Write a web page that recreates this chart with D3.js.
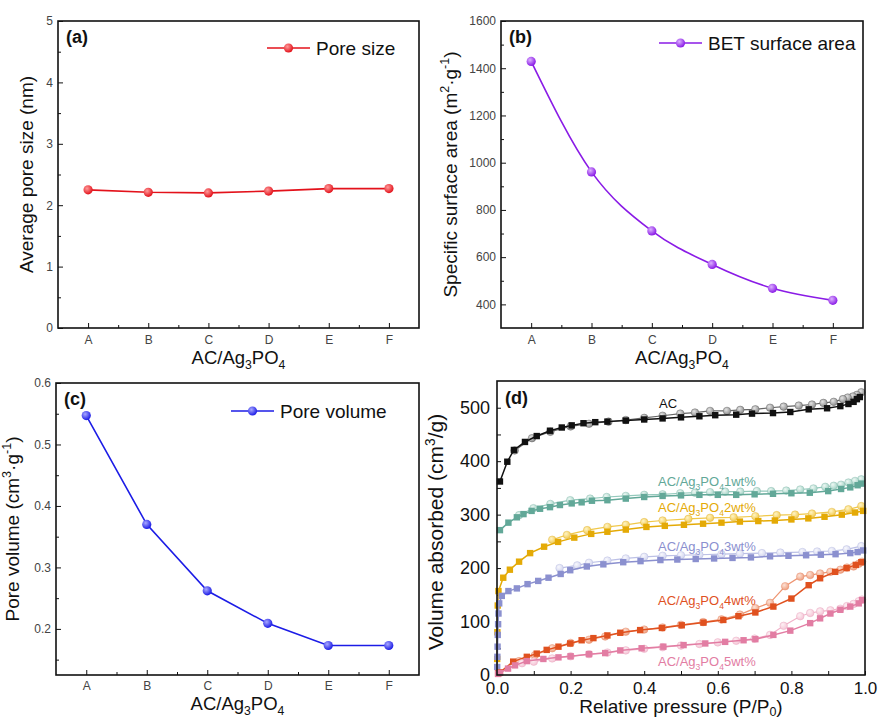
<!DOCTYPE html>
<html>
<head>
<meta charset="utf-8">
<script src="https://cdn.jsdelivr.net/npm/d3@7"></script>
<style>
  body { margin: 0; background: #fff; }
  text { font-family: Arial, "Liberation Sans", sans-serif; }
</style>
</head>
<body>
<svg id="chart" width="878" height="719"></svg>
<script>
// ---- data ----
const categories = ['A', 'B', 'C', 'D', 'E', 'F'];
const poreSize = [2.25, 2.21, 2.20, 2.23, 2.27, 2.27];
const surfaceArea = [1429, 961, 711, 569, 468, 417];
const poreVolume = [0.547, 0.370, 0.262, 0.209, 0.173, 0.173];

// isotherms, [P/P0, volume] pairs
const acAds = [[0.008, 362], [0.028, 399], [0.046, 421], [0.076, 436], [0.108, 447], [0.144, 457], [0.176, 463], [0.203, 467], [0.235, 471], [0.267, 473], [0.30, 474], [0.35, 476], [0.40, 478], [0.45, 480], [0.50, 482], [0.55, 484], [0.593, 486], [0.65, 487], [0.693, 489], [0.75, 490], [0.797, 492], [0.847, 497], [0.897, 499], [0.933, 503], [0.955, 507], [0.969, 511], [0.978, 516], [0.986, 520]];
const acDes = [[0.99, 529], [0.978, 524], [0.967, 521], [0.953, 519], [0.94, 516], [0.915, 511], [0.887, 509], [0.856, 506], [0.82, 504], [0.779, 502], [0.742, 500], [0.702, 497], [0.661, 496], [0.625, 494], [0.579, 494], [0.538, 491], [0.498, 489], [0.45, 485], [0.40, 481], [0.35, 477], [0.303, 474], [0.25, 470], [0.20, 465], [0.145, 455], [0.095, 443], [0.048, 420]];
const wt1Ads = [[0.008, 271], [0.031, 285], [0.054, 295], [0.072, 301], [0.094, 307], [0.117, 311], [0.144, 314], [0.171, 318], [0.203, 321], [0.23, 323], [0.258, 326], [0.30, 327], [0.35, 330], [0.40, 333], [0.45, 335], [0.50, 336], [0.55, 337], [0.60, 337], [0.65, 337], [0.70, 338], [0.75, 339], [0.80, 340], [0.85, 341], [0.90, 344], [0.935, 348], [0.96, 351], [0.98, 355], [0.99, 358]];
const wt1Des = [[0.99, 366], [0.973, 363], [0.955, 360], [0.935, 356], [0.915, 354], [0.892, 352], [0.86, 349], [0.824, 347], [0.786, 345], [0.745, 344], [0.706, 344], [0.661, 343], [0.62, 343], [0.579, 342], [0.538, 341], [0.498, 340], [0.45, 338], [0.40, 337], [0.35, 335], [0.298, 333], [0.253, 330], [0.199, 327], [0.145, 320], [0.099, 312], [0.06, 299]];
const wt2Ads = [[0.0005, 30], [0.001, 80], [0.002, 130], [0.004, 157], [0.017, 182], [0.035, 197], [0.06, 212], [0.09, 228], [0.128, 240], [0.166, 249], [0.21, 257], [0.256, 264], [0.30, 268], [0.35, 272], [0.406, 277], [0.456, 279], [0.508, 281], [0.56, 283], [0.61, 285], [0.66, 287], [0.71, 288], [0.755, 289], [0.80, 291], [0.846, 293], [0.89, 296], [0.937, 300], [0.973, 304], [0.995, 307]];
const wt2Des = [[0.99, 316], [0.955, 310], [0.91, 305], [0.856, 302], [0.81, 300], [0.76, 299], [0.702, 297], [0.643, 295], [0.579, 294], [0.52, 292], [0.45, 289], [0.40, 286], [0.35, 281], [0.30, 277], [0.245, 271], [0.19, 262], [0.15, 253]];
const wt3Ads = [[0.0005, 15], [0.001, 34], [0.0015, 53], [0.002, 75], [0.003, 95], [0.004, 115], [0.006, 134], [0.013, 148], [0.031, 157], [0.054, 162], [0.083, 170], [0.112, 176], [0.14, 182], [0.173, 189], [0.199, 196], [0.244, 203], [0.289, 207], [0.343, 211], [0.39, 213], [0.444, 215], [0.49, 216], [0.54, 217], [0.59, 218], [0.64, 219], [0.69, 220], [0.742, 222], [0.792, 223], [0.84, 224], [0.88, 225], [0.92, 226], [0.96, 228], [0.98, 230], [0.995, 233]];
const wt3Des = [[0.99, 241], [0.95, 235], [0.91, 232], [0.87, 231], [0.83, 230], [0.77, 229], [0.72, 228], [0.66, 227], [0.61, 226], [0.55, 225], [0.50, 224], [0.45, 223], [0.40, 221], [0.35, 218], [0.30, 214], [0.25, 210], [0.218, 205], [0.17, 200]];
const wt4Ads = [[0.003, 3], [0.008, 5], [0.044, 25], [0.081, 34], [0.108, 40], [0.135, 47], [0.167, 53], [0.199, 59], [0.23, 65], [0.262, 69], [0.30, 74], [0.335, 79], [0.389, 84], [0.448, 88], [0.502, 93], [0.561, 98], [0.615, 103], [0.656, 110], [0.702, 117], [0.751, 128], [0.80, 143], [0.847, 168], [0.878, 181], [0.919, 193], [0.95, 200], [0.975, 206], [0.99, 211]];
const wt4Des = [[0.992, 212], [0.983, 208], [0.969, 203], [0.951, 201], [0.933, 197], [0.906, 193], [0.878, 190], [0.851, 187], [0.824, 184], [0.783, 166], [0.742, 135], [0.702, 125], [0.66, 113], [0.61, 104], [0.56, 99], [0.50, 94], [0.45, 89], [0.40, 85], [0.35, 81], [0.294, 72], [0.25, 66], [0.20, 60], [0.15, 50], [0.103, 37], [0.06, 26]];
const wt5Ads = [[0.003, 2], [0.008, 4], [0.03, 12], [0.049, 18], [0.081, 26], [0.126, 30], [0.167, 33], [0.20, 35], [0.25, 39], [0.294, 41], [0.335, 46], [0.393, 50], [0.452, 53], [0.507, 56], [0.566, 59], [0.62, 62], [0.67, 65], [0.702, 67], [0.751, 75], [0.797, 83], [0.851, 97], [0.878, 106], [0.906, 115], [0.933, 122], [0.96, 128], [0.983, 134], [0.992, 140]];
const wt5Des = [[0.992, 141], [0.983, 138], [0.969, 133], [0.951, 129], [0.933, 124], [0.906, 121], [0.878, 119], [0.851, 116], [0.824, 110], [0.779, 92], [0.742, 75], [0.70, 68], [0.65, 64], [0.60, 61], [0.55, 58], [0.50, 55], [0.45, 52], [0.40, 49], [0.35, 46], [0.30, 42], [0.25, 39], [0.20, 35], [0.15, 31], [0.10, 25], [0.068, 22]];

const svg = d3.select('#chart');
svg.append('rect').attr('width', 878).attr('height', 719).attr('fill', '#fff');
const defs = svg.append('defs');

// sphere-like marker fill
function sphere(id, light, base) {
  const g = defs.append('radialGradient').attr('id', id)
    .attr('cx', '38%').attr('cy', '35%').attr('r', '65%');
  g.append('stop').attr('offset', '0%').attr('stop-color', light);
  g.append('stop').attr('offset', '100%').attr('stop-color', base);
  return `url(#${id})`;
}

// text with sub/superscripts, parts = [[str, 'n'|'sub'|'sup'], ...]
function rich(sel, parts, fs, subShift = 0.28) {
  let cur = 0;
  parts.forEach(([s, k]) => {
    const target = k === 'sup' ? -0.4 * fs : (k === 'sub' ? subShift * fs : 0);
    sel.append('tspan')
      .attr('dy', target - cur)
      .style('font-size', k === 'n' ? `${fs}px` : `${fs * 0.66}px`)
      .text(s);
    cur = target;
  });
}

function frame(g, b) {
  g.append('rect')
    .attr('x', b.left).attr('y', b.top)
    .attr('width', b.right - b.left).attr('height', b.bottom - b.top)
    .attr('fill', 'none').attr('stroke', '#111').attr('stroke-width', 1.6);
}

function styleAxis(a, fs, fill) {
  a.select('.domain').remove();
  a.selectAll('line').attr('stroke', '#111');
  a.selectAll('text').style('font-size', `${fs}px`).attr('fill', fill);
}

// panels a, b, c share the same layout
function categoryPanel(cfg) {
  const b = cfg.box;
  const g = svg.append('g');
  const x = d3.scalePoint().domain(categories).range([b.left, b.right]).padding(0.5);
  const y = d3.scaleLinear().domain(cfg.yDomain).range([b.bottom, b.top]);

  const xa = g.append('g').attr('transform', `translate(0,${b.bottom})`)
    .call(d3.axisBottom(x).tickSize(-5).tickPadding(cfg.xPad));
  styleAxis(xa, 12, '#444');
  const step = x.step();
  const xm = d3.scaleLinear().domain([b.left, b.right]).range([b.left, b.right]);
  const xMinor = g.append('g').attr('transform', `translate(0,${b.bottom})`)
    .call(d3.axisBottom(xm).tickValues(categories.slice(0, 5).map(c => x(c) + step / 2))
      .tickSize(-3).tickFormat(''));
  styleAxis(xMinor, 12, '#444');

  const ya = g.append('g').attr('transform', `translate(${b.left},0)`)
    .call(d3.axisLeft(y).tickValues(cfg.yTicks).tickSize(-5).tickPadding(5).tickFormat(cfg.fmt));
  styleAxis(ya, 12, '#444');
  const yMinor = g.append('g').attr('transform', `translate(${b.left},0)`)
    .call(d3.axisLeft(y).tickValues(cfg.yMinor).tickSize(-3).tickFormat(''));
  styleAxis(yMinor, 12, '#444');

  frame(g, b);

  const fill = sphere(cfg.id, cfg.light, cfg.color);
  const line = d3.line().x((d, i) => x(categories[i])).y(d => y(d)).curve(cfg.curve);
  g.append('path').datum(cfg.values).attr('d', line)
    .attr('fill', 'none').attr('stroke', cfg.color).attr('stroke-width', 1.6);
  g.selectAll('circle.pt').data(cfg.values).join('circle')
    .attr('class', 'pt')
    .attr('cx', (d, i) => x(categories[i])).attr('cy', d => y(d))
    .attr('r', 4.6).attr('fill', fill);

  // legend
  const L = cfg.legend;
  g.append('line').attr('x1', L.x).attr('x2', L.x + 43).attr('y1', L.y).attr('y2', L.y)
    .attr('stroke', cfg.color).attr('stroke-width', 1.6);
  g.append('circle').attr('cx', L.x + 21.5).attr('cy', L.y).attr('r', 4.6).attr('fill', fill);
  g.append('text').attr('x', L.x + 49).attr('y', L.y + 7)
    .style('font-size', '19px').attr('fill', '#111').text(cfg.legendText);

  g.append('text').attr('x', b.left + 8).attr('y', b.top + 22)
    .style('font-size', '18px').style('font-weight', 'bold').attr('fill', '#111').text(cfg.tag);

  const yt = g.append('text').attr('text-anchor', 'middle')
    .attr('transform', `translate(${cfg.yTitleX},${(b.top + b.bottom) / 2}) rotate(-90)`)
    .attr('dy', '0.35em').attr('fill', '#111');
  rich(yt, cfg.yTitle, 19);

  const xt = g.append('text').attr('text-anchor', 'middle')
    .attr('x', (b.left + b.right) / 2).attr('y', cfg.xTitleY).attr('fill', '#111');
  rich(xt, [['AC/Ag', 'n'], ['3', 'sub'], ['PO', 'n'], ['4', 'sub']], 18.5);
}

categoryPanel({
  box: { left: 58, top: 21, right: 419, bottom: 328 },
  values: poreSize, yDomain: [0, 5], yTicks: [0, 1, 2, 3, 4, 5], yMinor: [0.5, 1.5, 2.5, 3.5, 4.5],
  fmt: d3.format('d'), color: '#e3121b', light: '#ff9a9a', id: 'gA', curve: d3.curveLinear,
  legend: { x: 267, y: 48 }, legendText: 'Pore size', tag: '(a)',
  yTitleX: 33, yTitle: [['Average pore size (nm)', 'n']], xTitleY: 364, xPad: 7,
});

categoryPanel({
  box: { left: 501, top: 21, right: 863, bottom: 328 },
  values: surfaceArea, yDomain: [300, 1600], yTicks: [400, 600, 800, 1000, 1200, 1400, 1600],
  yMinor: [500, 700, 900, 1100, 1300, 1500],
  fmt: d3.format('d'), color: '#8a1be6', light: '#dcb0ff', id: 'gB', curve: d3.curveMonotoneX,
  legend: { x: 659, y: 43 }, legendText: 'BET surface area', tag: '(b)',
  yTitleX: 457, yTitle: [['Specific surface area (m', 'n'], ['2', 'sup'], ['·g', 'n'], ['-1', 'sup'], [')', 'n']],
  xTitleY: 364, xPad: 7,
});

categoryPanel({
  box: { left: 56, top: 383, right: 419, bottom: 675 },
  values: poreVolume, yDomain: [0.125, 0.6], yTicks: [0.2, 0.3, 0.4, 0.5, 0.6],
  yMinor: [0.15, 0.25, 0.35, 0.45, 0.55],
  fmt: d3.format('.1f'), color: '#1c1ce6', light: '#a8a8ff', id: 'gC', curve: d3.curveLinear,
  legend: { x: 231, y: 411 }, legendText: 'Pore volume', tag: '(c)',
  yTitleX: 19, yTitle: [['Pore volume (cm', 'n'], ['3', 'sup'], ['·g', 'n'], ['-1', 'sup'], [')', 'n']],
  xTitleY: 710, xPad: 6,
});

// ---- panel d: isotherms ----
const isotherms = [
  { ads: acAds, des: acDes, line: '#111', dline: '#666', sq: '#111', c: '#8e8e8e', cl: '#e4e4e4', cs: '#555' },
  { ads: wt1Ads, des: wt1Des, line: '#62a898', dline: '#94c9bc', sq: '#62a898', c: '#a4d3c6', cl: '#eef8f4', cs: '#7fb5a8' },
  { ads: wt2Ads, des: wt2Des, line: '#e4aa06', dline: '#f0c84a', sq: '#e4aa06', c: '#f2cb55', cl: '#fff4c4', cs: '#e0b030' },
  { ads: wt3Ads, des: wt3Des, line: '#8b90cf', dline: '#bcc0e6', sq: '#8b90cf', c: '#d3d6ef', cl: '#f8f8fd', cs: '#b0b4de' },
  { ads: wt4Ads, des: wt4Des, line: '#e0511f', dline: '#ee9470', sq: '#e0511f', c: '#efa080', cl: '#fde2d6', cs: '#e28462' },
  { ads: wt5Ads, des: wt5Des, line: '#e27da3', dline: '#f1b2c9', sq: '#e27da3', c: '#f5c5d6', cl: '#fdf0f4', cs: '#e8a2bc' },
];
const seriesLabels = [
  { parts: [['AC', 'n']], color: '#111', x: 668, y: 408, anchor: 'middle' },
  { parts: [['AC/Ag', 'n'], ['3', 'sub'], ['PO', 'n'], ['4', 'sub'], ['1wt%', 'n']], color: '#62a898', x: 658, y: 486 },
  { parts: [['AC/Ag', 'n'], ['3', 'sub'], ['PO', 'n'], ['4', 'sub'], ['2wt%', 'n']], color: '#e4aa06', x: 658, y: 512 },
  { parts: [['AC/Ag', 'n'], ['3', 'sub'], ['PO', 'n'], ['4', 'sub'], ['3wt%', 'n']], color: '#8b90cf', x: 658, y: 551 },
  { parts: [['AC/Ag', 'n'], ['3', 'sub'], ['PO', 'n'], ['4', 'sub'], ['4wt%', 'n']], color: '#e0511f', x: 658, y: 605 },
  { parts: [['AC/Ag', 'n'], ['3', 'sub'], ['PO', 'n'], ['4', 'sub'], ['5wt%', 'n']], color: '#e27da3', x: 658, y: 666 },
];

(function isothermPanel() {
  const b = { left: 497, top: 381, right: 865, bottom: 675 };
  const g = svg.append('g');
  const x = d3.scaleLinear().domain([0, 1]).range([b.left, b.right]);
  const y = d3.scaleLinear().domain([0, 550]).range([b.bottom, b.top]);

  const xa = g.append('g').attr('transform', `translate(0,${b.bottom})`)
    .call(d3.axisBottom(x).tickValues([0, 0.2, 0.4, 0.6, 0.8, 1.0]).tickSize(-4).tickPadding(7).tickFormat(d3.format('.1f')));
  styleAxis(xa, 17, '#111');
  const xMinor = g.append('g').attr('transform', `translate(0,${b.bottom})`)
    .call(d3.axisBottom(x).tickValues([0.1, 0.3, 0.5, 0.7, 0.9]).tickSize(-4).tickFormat(''));
  styleAxis(xMinor, 17, '#111');
  const ya = g.append('g').attr('transform', `translate(${b.left},0)`)
    .call(d3.axisLeft(y).tickValues([0, 100, 200, 300, 400, 500]).tickSize(-4).tickPadding(7));
  styleAxis(ya, 18, '#111');
  const yMinor = g.append('g').attr('transform', `translate(${b.left},0)`)
    .call(d3.axisLeft(y).tickValues([50, 150, 250, 350, 450]).tickSize(-4).tickFormat(''));
  styleAxis(yMinor, 18, '#111');

  const line = d3.line().x(d => x(d[0])).y(d => y(d[1]));
  isotherms.forEach((s, i) => {
    const fill = sphere(`gd${i}`, s.cl, s.c);
    g.append('path').datum(s.des).attr('d', line)
      .attr('fill', 'none').attr('stroke', s.dline).attr('stroke-width', 1.2);
    g.append('g').selectAll('circle').data(s.des).join('circle')
      .attr('cx', d => x(d[0])).attr('cy', d => y(d[1])).attr('r', 3.8)
      .attr('fill', fill).attr('stroke', s.cs).attr('stroke-width', 0.6).attr('stroke-opacity', 0.7);
    g.append('path').datum(s.ads).attr('d', line)
      .attr('fill', 'none').attr('stroke', s.line).attr('stroke-width', 1.5);
    g.append('g').selectAll('rect').data(s.ads).join('rect')
      .attr('x', d => x(d[0]) - 3.2).attr('y', d => y(d[1]) - 3.2)
      .attr('width', 6.4).attr('height', 6.4).attr('fill', s.sq);
  });

  seriesLabels.forEach(l => {
    const t = g.append('text').attr('x', l.x).attr('y', l.y)
      .attr('text-anchor', l.anchor || 'start').attr('fill', l.color);
    rich(t, l.parts, 13);
  });

  frame(g, b);

  g.append('text').attr('x', b.left + 8).attr('y', b.top + 23)
    .style('font-size', '18px').style('font-weight', 'bold').attr('fill', '#111').text('(d)');

  const yt = g.append('text').attr('text-anchor', 'middle')
    .attr('transform', `translate(443,${(b.top + b.bottom) / 2 + 4}) rotate(-90)`)
    .attr('dy', '0.35em').attr('fill', '#111');
  rich(yt, [['Volume absorbed (cm', 'n'], ['3', 'sup'], ['/g)', 'n']], 21);

  const xt = g.append('text').attr('text-anchor', 'middle')
    .attr('x', (b.left + b.right) / 2).attr('y', 713).attr('fill', '#111');
  rich(xt, [['Relative pressure (P/P', 'n'], ['0', 'sub'], [')', 'n']], 19, 0.16);
})();
</script>
</body>
</html>
